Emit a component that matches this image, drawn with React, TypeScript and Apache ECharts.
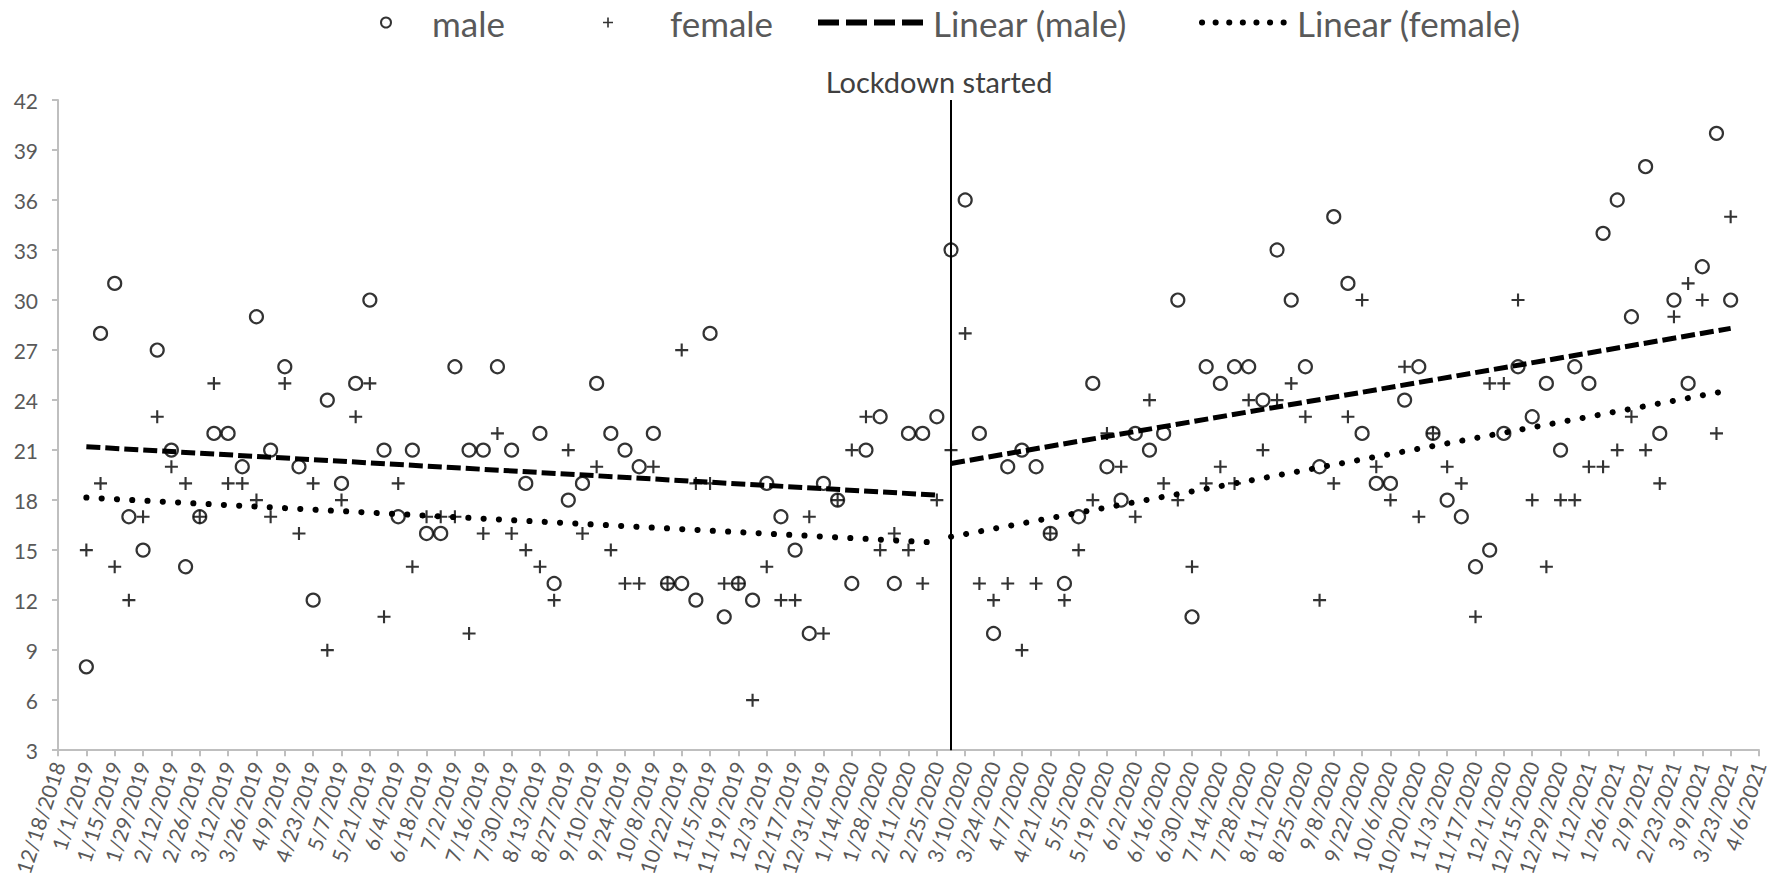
import React, { useEffect, useRef } from "react";
import * as echarts from "echarts";

// ---- data ----
const axisStartDate = "2018-12-18"; // first tick label
const axisEndDate = "2021-04-06"; // last tick label
const firstWeekDate = "2019-01-01"; // date of first weekly observation
const lockdownDate = "2020-03-03";
const lockdownLabel = "Lockdown started";
const tickStepDays = 14;
const weekStepDays = 7;

const maleValues = [
  8, 28, 31, 17, 15, 27, 21, 14, 17, 22, 22, 20, 29, 21, 26, 20, 12, 24, 19, 25,
  30, 21, 17, 21, 16, 16, 26, 21, 21, 26, 21, 19, 22, 13, 18, 19, 25, 22, 21, 20,
  22, 13, 13, 12, 28, 11, 13, 12, 19, 17, 15, 10, 19, 18, 13, 21, 23, 13, 22, 22,
  23, 33, 36, 22, 10, 20, 21, 20, 16, 13, 17, 25, 20, 18, 22, 21, 22, 30, 11, 26,
  25, 26, 26, 24, 33, 30, 26, 20, 35, 31, 22, 19, 19, 24, 26, 22, 18, 17, 14, 15,
  22, 26, 23, 25, 21, 26, 25, 34, 36, 29, 38, 22, 30, 25, 32, 40, 30,
];
const femaleValues = [
  15, 19, 14, 12, 17, 23, 20, 19, 17, 25, 19, 19, 18, 17, 25, 16, 19, 9, 18, 23,
  25, 11, 19, 14, 17, 17, 17, 10, 16, 22, 16, 15, 14, 12, 21, 16, 20, 15, 13, 13,
  20, 13, 27, 19, 19, 13, 13, 6, 14, 12, 12, 17, 10, 18, 21, 23, 15, 16, 15, 13,
  18, 21, 28, 13, 12, 13, 9, 13, 16, 12, 15, 18, 22, 20, 17, 24, 19, 18, 14, 19,
  20, 19, 24, 21, 24, 25, 23, 12, 19, 23, 30, 20, 18, 26, 17, 22, 20, 19, 11, 25,
  25, 30, 18, 14, 18, 18, 20, 20, 21, 23, 21, 19, 29, 31, 30, 22, 35,
];
// linear trend lines (start value, end value) before and after lockdown
const maleTrendPre = [21.2, 18.3];
const maleTrendPost = [20.2, 28.3];
const femaleTrendPre = [18.15, 15.45];
const femaleTrendPost = [15.8, 24.6];

const yTicks = { min: 3, max: 42, step: 3 };
const seriesNames = ["male", "female", "Linear (male)", "Linear (female)"];

// ---- helpers ----
const DAY = 86400000;
const toUTC = (s: string) => {
  const [y, m, d] = s.split("-").map(Number);
  return Date.UTC(y, m - 1, d);
};
const dayIndex = (s: string) => Math.round((toUTC(s) - toUTC(axisStartDate)) / DAY);
const fmtDay = (v: number) => {
  const d = new Date(toUTC(axisStartDate) + v * DAY);
  return `${d.getUTCMonth() + 1}/${d.getUTCDate()}/${d.getUTCFullYear()}`;
};

const firstX = dayIndex(firstWeekDate);
const lockX = dayIndex(lockdownDate);
const xs = maleValues.map((_, i) => firstX + i * weekStepDays);
const preXs = xs.filter((x) => x < lockX);
const postXs = xs.filter((x) => x >= lockX);
const seg = (x: number[], v: number[]) => [
  [x[0], v[0]],
  [x[x.length - 1], v[1]],
];

const FONT = "Lato, 'Open Sans', sans-serif";
const GRAY = "#595959";
const PLUS = "path://M4.6,0H6.4V4.6H11V6.4H6.4V11H4.6V6.4H0V4.6H4.6Z";

export default function App() {
  const ref = useRef<HTMLDivElement>(null);
  useEffect(() => {
    if (!ref.current) return;
    const chart = echarts.init(ref.current, undefined, { renderer: "svg" });

    const maleLine = {
      type: "line" as const,
      name: seriesNames[2],
      symbol: "none",
      showSymbol: false,
      lineStyle: { color: "#000", width: 5, type: [14, 5] as any, cap: "butt" as const },
      itemStyle: { color: "#000" },
      z: 5,
    };
    const femLine = {
      type: "line" as const,
      name: seriesNames[3],
      symbol: "none",
      showSymbol: false,
      lineStyle: { color: "#000", width: 6, type: [0.1, 15.2] as any, cap: "round" as const },
      itemStyle: { color: "#000" },
      z: 5,
    };

    const legendText = { fontSize: 35, color: GRAY, fontFamily: FONT };
    const legendBase = {
      top: 5,
      orient: "horizontal" as const,
      textStyle: legendText,
      itemGap: 0,
      selectedMode: false as const,
      padding: 0,
    };
    const hiddenSymbol = { color: "rgba(0,0,0,0)", borderColor: "rgba(0,0,0,0)", borderWidth: 0, opacity: 0 };

    chart.setOption({
      animation: false,
      backgroundColor: "#ffffff",
      textStyle: { fontFamily: FONT },
      legend: [
        { ...legendBase, left: 380, itemWidth: 82, itemHeight: 10, data: [seriesNames[0]] },
        { ...legendBase, left: 603, itemWidth: 114, itemHeight: 10, data: [seriesNames[1]] },
        {
          ...legendBase,
          left: 815,
          itemWidth: 110,
          itemHeight: 14,
          itemStyle: hiddenSymbol,
          lineStyle: { color: "#000", width: 6, type: [21, 7], cap: "butt" },
          data: [seriesNames[2]],
        },
        {
          ...legendBase,
          left: 1199,
          itemWidth: 90,
          itemHeight: 14,
          itemStyle: hiddenSymbol,
          lineStyle: { color: "#000", width: 6, type: [0.1, 13.5], cap: "round" },
          data: [seriesNames[3]],
        },
      ],
      grid: { left: 58, right: 15, top: 100, bottom: 128, containLabel: false },
      xAxis: {
        type: "value",
        min: dayIndex(axisStartDate),
        max: dayIndex(axisEndDate),
        interval: tickStepDays,
        splitLine: { show: false },
        axisLine: { show: true, onZero: false, lineStyle: { color: "#bfbfbf", width: 2 } },
        axisTick: { show: true, length: 6, lineStyle: { color: "#bfbfbf", width: 2 } },
        axisLabel: {
          rotate: 72,
          margin: 12,
          fontSize: 21,
          color: GRAY,
          fontFamily: FONT,
          showMinLabel: true,
          showMaxLabel: true,
          formatter: (v: number) => fmtDay(v),
        },
      },
      yAxis: {
        type: "value",
        min: yTicks.min,
        max: yTicks.max,
        interval: yTicks.step,
        splitLine: { show: false },
        axisLine: { show: true, lineStyle: { color: "#bfbfbf", width: 2 } },
        axisTick: { show: true, length: 6, lineStyle: { color: "#bfbfbf", width: 2 } },
        axisLabel: { fontSize: 21, color: GRAY, fontFamily: FONT, margin: 20 },
      },
      series: [
        {
          type: "scatter",
          name: seriesNames[0],
          data: xs.map((x, i) => [x, maleValues[i]]),
          symbol: "circle",
          symbolSize: 13,
          itemStyle: { color: "rgba(0,0,0,0)", borderColor: "#000", borderWidth: 2.2 },
          z: 3,
          markLine: {
            silent: true,
            symbol: "none",
            lineStyle: { color: "#000", width: 2, type: "solid" },
            label: {
              show: true,
              position: "end",
              formatter: lockdownLabel,
              fontSize: 29,
              color: "#404040",
              fontFamily: FONT,
              distance: 4,
              padding: [0, 24, 0, 0],
            },
            data: [{ xAxis: lockX }],
          },
        },
        {
          type: "scatter",
          name: seriesNames[1],
          data: xs.map((x, i) => [x, femaleValues[i]]),
          symbol: PLUS,
          symbolSize: 13,
          itemStyle: { color: "#000" },
          z: 4,
        },
        { ...maleLine, data: seg(preXs, maleTrendPre) },
        { ...maleLine, data: seg(postXs, maleTrendPost) },
        { ...femLine, data: seg(preXs, femaleTrendPre) },
        { ...femLine, data: seg(postXs, femaleTrendPost) },
      ],
    });
    return () => chart.dispose();
  }, []);
  return (
    <div
      ref={ref}
      style={{ position: "absolute", left: 0, top: 0, width: 1774, height: 879, background: "#fff" }}
    />
  );
}
